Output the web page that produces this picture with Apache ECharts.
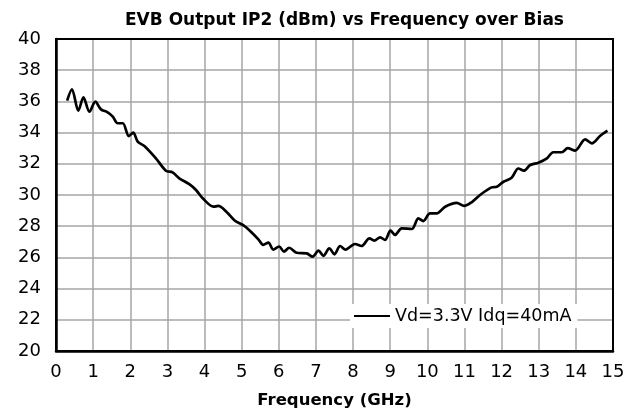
<!DOCTYPE html>
<html>
<head>
<meta charset="utf-8">
<script src="https://cdn.jsdelivr.net/npm/echarts@6/dist/echarts.min.js"></script>
<style>
  html, body { margin: 0; padding: 0; background: #fff; }
  #chart { width: 643px; height: 417px; }
</style>
</head>
<body>
<div id="chart"></div>
<script>
// frequency (GHz)
const freq = [
  0.3, 0.43, 0.6, 0.74, 0.9, 1.06, 1.21, 1.39, 1.53, 1.66, 1.8, 1.96, 2.08, 2.2, 2.38,
  2.69, 2.96, 3.14, 3.32, 3.59, 3.77, 3.95, 4.24, 4.37, 4.6, 4.82, 5.05, 5.27, 5.45,
  5.58, 5.72, 5.85, 6.01, 6.14, 6.28, 6.48, 6.75, 6.91, 7.07, 7.2, 7.36, 7.5, 7.65,
  7.8, 8.05, 8.23, 8.44, 8.57, 8.73, 8.86, 9.01, 9.13, 9.31, 9.58, 9.76, 9.89, 10.07,
  10.25, 10.48, 10.79, 10.99, 11.2, 11.42, 11.73, 11.87, 12.05, 12.27, 12.45, 12.6,
  12.77, 12.99, 13.22, 13.39, 13.62, 13.78, 13.98, 14.25, 14.43, 14.65, 14.85
]
// output IP2 (dBm), Vd=3.3V Idq=40mA
const ip2 = [
  36.05, 36.78, 35.4, 36.26, 35.34, 35.98, 35.49, 35.3, 35.02, 34.6, 34.6, 33.78, 34.0, 33.42, 33.14,
  32.35, 31.56, 31.45, 31.07, 30.7, 30.32, 29.79, 29.25, 29.3, 28.9, 28.35, 28.05, 27.6, 27.16,
  26.8, 26.95, 26.5, 26.7, 26.37, 26.62, 26.3, 26.26, 26.05, 26.43, 26.1, 26.58, 26.2, 26.73,
  26.5, 26.86, 26.73, 27.22, 27.07, 27.29, 27.12, 27.71, 27.44, 27.86, 27.82, 28.5, 28.33, 28.82,
  28.82, 29.25, 29.5, 29.3, 29.55, 30.0, 30.49, 30.53, 30.85, 31.1, 31.7, 31.56,
  31.92, 32.07, 32.35, 32.74, 32.74, 33.0, 32.84, 33.57, 33.31, 33.78, 34.12
]
const seriesName = 'Vd=3.3V Idq=40mA'

const chart = echarts.init(document.getElementById('chart'))
const font = 'DejaVu Sans'
let option = {
  animation: false,
  title: {
    text: 'EVB Output IP2 (dBm) vs Frequency over Bias',
    left: 120,
    top: 7,
    textStyle: { fontFamily: font, fontSize: 17, fontWeight: 'bold', color: '#000' }
  },
  legend: {
    left: 350,
    top: 304,
    backgroundColor: '#fff',
    padding: [3, 6, 3, 4],
    icon: 'rect',
    itemWidth: 36,
    itemHeight: 2,
    itemGap: 0,
    textStyle: { fontFamily: font, fontSize: 17.5, color: '#000' },
    data: [seriesName]
  },
  grid: {
    left: 56,
    right: 30,
    top: 39,
    bottom: 66,
    show: true,
    borderColor: '#000',
    borderWidth: 2,
    z: 3
  },
  xAxis: {
    type: 'value',
    min: 0,
    max: 15,
    interval: 1,
    name: 'Frequency (GHz)',
    nameLocation: 'middle',
    nameGap: 41,
    nameTextStyle: { fontFamily: font, fontSize: 16.5, fontWeight: 'bold', color: '#000' },
    axisLine: { show: true, lineStyle: { color: '#000', width: 2.5 } },
    axisTick: { show: false },
    axisLabel: { fontFamily: font, fontSize: 18, color: '#000', margin: 12 },
    splitLine: { show: true, lineStyle: { color: '#a6a6a6', width: 1.5 } }
  },
  yAxis: {
    type: 'value',
    min: 20,
    max: 40,
    interval: 2,
    axisLine: { show: true, lineStyle: { color: '#000', width: 2.5 } },
    axisTick: { show: false },
    axisLabel: { fontFamily: font, fontSize: 18, color: '#000', margin: 15 },
    splitLine: { show: true, lineStyle: { color: '#a6a6a6', width: 1.5 } }
  },
  series: [
    {
      name: seriesName,
      type: 'line',
      data: freq.map((f, i) => [f, ip2[i]]),
      smooth: 0.3,
      showSymbol: false,
      symbol: 'none',
      itemStyle: { color: '#000' },
      lineStyle: { color: '#000', width: 2.7 }
    }
  ]
}
chart.setOption(option)
</script>
</body>
</html>
